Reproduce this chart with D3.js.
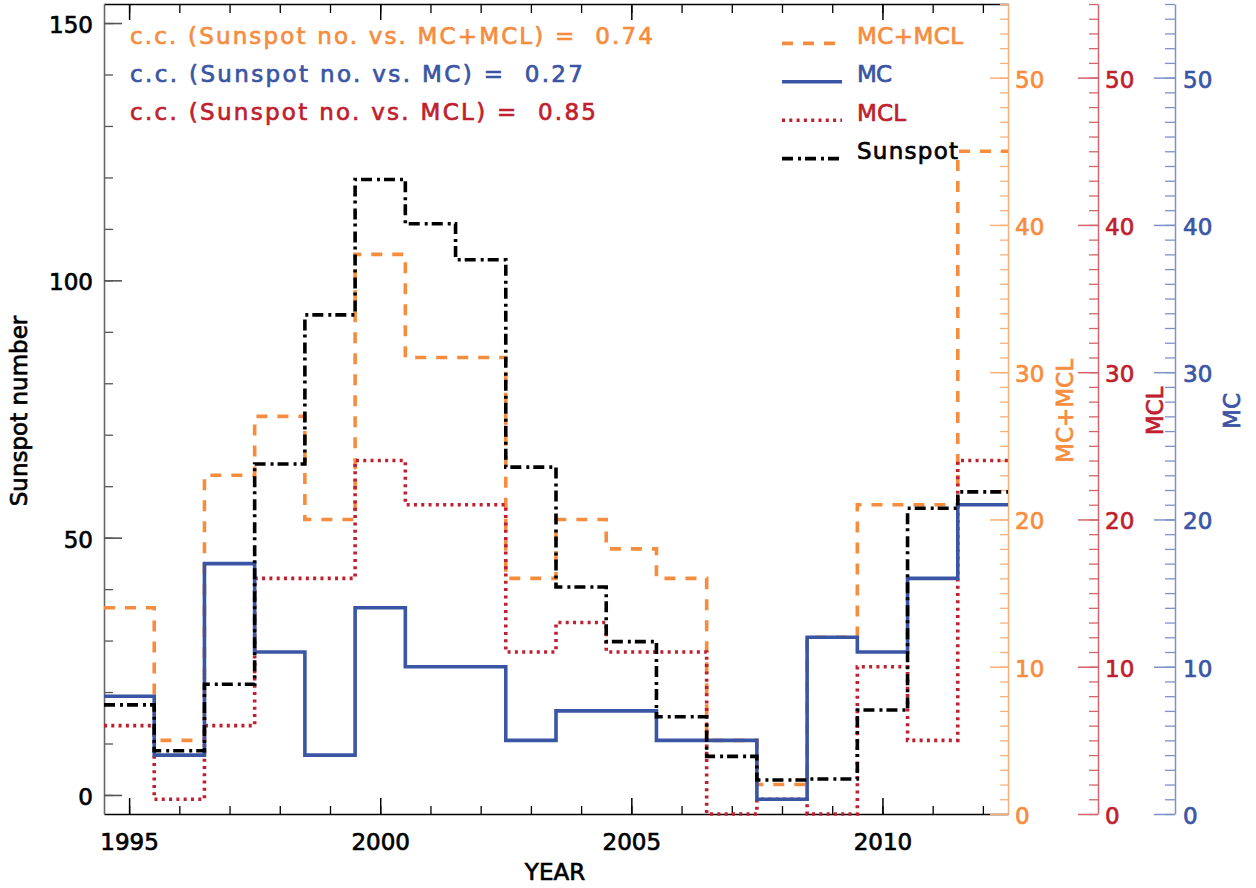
<!DOCTYPE html>
<html>
<head>
<meta charset="utf-8">
<script src="https://cdn.jsdelivr.net/npm/d3@7"></script>
<style>
  body { margin: 0; background: #fff; }
  svg text { font-family: "DejaVu Sans", sans-serif; font-size: 23px; white-space: pre;
             stroke: currentColor; stroke-width: 0.7px; }
</style>
</head>
<body>
<div id="chart"></div>
<script>
// yearly bins (each bin is centred on the year)
var years     = [1995, 1996, 1997, 1998, 1999, 2000, 2001, 2002, 2003, 2004, 2005, 2006, 2007, 2008, 2009, 2010, 2011, 2012];
var sunspot   = [17.5, 8.6, 21.5, 64.3, 93.3, 119.6, 111.0, 104.0, 63.7, 40.4, 29.8, 15.2, 7.5, 2.9, 3.1, 16.5, 55.7, 58.9];
var mcPlusMcl = [14, 5, 23, 27, 20, 38, 31, 31, 16, 20, 18, 16, 5, 2, 12, 21, 21, 45];
var mc        = [8, 4, 17, 11, 4, 14, 10, 10, 5, 7, 7, 5, 5, 1, 12, 11, 16, 21];
var mcl       = [6, 1, 6, 16, 16, 24, 21, 21, 11, 13, 11, 11, 0, 1, 0, 10, 5, 24];

// correlation coefficients printed top left
var ccNames  = ["MC+MCL", "MC", "MCL"];
var ccValues = ["0.74", "0.27", "0.85"];

// tick labels
var yearTicks    = [1995, 2000, 2005, 2010];
var sunspotTicks = [0, 50, 100, 150];
var countTicks   = [0, 10, 20, 30, 40, 50];

var ORANGE = "#f68d3e", BLUE = "#3b55a5", RED = "#bf1f2e";

var W = 1256, H = 888;
var plot = { left: 104, right: 1008, top: 4, bottom: 814 };

var svg = d3.select("#chart").append("svg")
  .attr("width", W)
  .attr("height", H)
  .style("color", "#000");

// SCALES
var x = d3.scaleLinear()
  .domain([d3.min(years) - 0.5, d3.max(years) + 0.5])
  .range([plot.left, plot.right]);
var ySun = d3.scaleLinear().domain([-3.7, 153.7]).range([plot.bottom, plot.top]);
var yCount = d3.scaleLinear().domain([0, 55]).range([plot.bottom, plot.top]);

// AXES
var drawAxis = function(axis, tx, ty, color, width) {
  var g = svg.append("g")
    .attr("transform", "translate(" + tx + "," + ty + ")")
    .call(axis);
  g.selectAll("path, line").attr("stroke", color).attr("stroke-width", width);
  g.selectAll("text").attr("fill", "#000").attr("font-size", null).attr("font-family", null);
  return g;
};
var minorAxis = function(axis, tx, ty, color, width) {
  var g = drawAxis(axis.tickFormat(""), tx, ty, color, width);
  g.select(".domain").remove();
};

// x: bottom + top
minorAxis(d3.axisBottom(x).tickValues(d3.range(1995, 2013)).tickSize(-8), 0, plot.bottom, "#000", 1.3);
minorAxis(d3.axisTop(x).tickValues(d3.range(1995, 2013)).tickSize(-9), 0, plot.top, "#000", 1.3);
drawAxis(d3.axisTop(x).tickValues(yearTicks).tickSize(-16).tickSizeOuter(0).tickFormat(""), 0, plot.top, "#000", 1.5);
var xg = drawAxis(d3.axisBottom(x).tickValues(yearTicks).tickSize(-16).tickSizeOuter(0).tickPadding(20).tickFormat(d3.format("d")),
  0, plot.bottom, "#000", 1.5);
xg.selectAll("text").style("color", "#000");

// left: sunspot number
minorAxis(d3.axisLeft(ySun).tickValues(d3.range(0, 151, 10)).tickSize(-9), plot.left, 0, "#555", 1.3);
var yl = drawAxis(d3.axisLeft(ySun).tickValues(sunspotTicks).tickSize(-18).tickSizeOuter(0).tickPadding(11),
  plot.left, 0, "#555", 1.6);
yl.select(".domain").attr("stroke", "#666");
yl.selectAll("text").attr("dy", "0.41em").style("color", "#000");

// right: three count axes
var rightAxes = [
  { x: plot.right, color: ORANGE, line: "#f9b17a", major: 18, minor: 8, pad: 7 },
  { x: 1098, color: RED, line: "#d3646e", major: 20, minor: 9, pad: 7 },
  { x: 1175, color: BLUE, line: "#7f91cb", major: 21, minor: 10, pad: 8 }
];
rightAxes.forEach(function(a) {
  minorAxis(d3.axisRight(yCount).tickValues(d3.range(0, 56, 1)).tickSize(-a.minor), a.x, 0, a.line, 1.3);
  var g = drawAxis(d3.axisRight(yCount).tickValues(countTicks).tickSize(-a.major).tickSizeOuter(0).tickPadding(a.pad),
    a.x, 0, a.line, 1.5);
  g.selectAll("text").attr("fill", a.color).style("color", a.color).attr("dy", "0.41em");
});

// axis titles
svg.append("text")
  .attr("transform", "translate(27,411) rotate(-90)")
  .attr("text-anchor", "middle")
  .text("Sunspot number");
svg.append("text")
  .attr("x", 555).attr("y", 880)
  .attr("text-anchor", "middle")
  .text("YEAR");
[["MC+MCL", ORANGE, 1073], ["MCL", RED, 1163], ["MC", BLUE, 1240]].forEach(function(t) {
  svg.append("text")
    .attr("transform", "translate(" + t[2] + ",411) rotate(-90)")
    .attr("text-anchor", "middle")
    .attr("fill", t[1])
    .style("color", t[1])
    .text(t[0]);
});

// HISTOGRAM LINES
var series = [
  { name: "MC+MCL",  values: mcPlusMcl, y: yCount, color: ORANGE, dash: "11,10" },
  { name: "MCL",     values: mcl,       y: yCount, color: RED,    dash: "3,4.3" },
  { name: "MC",      values: mc,        y: yCount, color: BLUE,   dash: null },
  { name: "Sunspot", values: sunspot,   y: ySun,   color: "#000", dash: "11,5,3,4" }
];

var stepPoints = function(values) {
  var pts = years.map(function(yr, i) { return { x: yr - 0.5, v: values[i] }; });
  pts.push({ x: years[years.length - 1] + 0.5, v: values[values.length - 1] });
  return pts;
};

series.forEach(function(s) {
  var line = d3.line()
    .x(function(d) { return x(d.x); })
    .y(function(d) { return s.y(d.v); })
    .curve(d3.curveStepAfter);
  svg.append("path")
    .datum(stepPoints(s.values))
    .attr("d", line)
    .attr("fill", "none")
    .attr("stroke", s.color)
    .attr("stroke-width", 3.6)
    .attr("stroke-dasharray", s.dash);
});

// c.c. annotations
var ccColors = [ORANGE, BLUE, RED];
var ccWidths = [523, 453, 466];
ccNames.forEach(function(n, i) {
  svg.append("text")
    .attr("x", 130)
    .attr("y", 44 + i * 37.8)
    .attr("fill", ccColors[i])
    .style("color", ccColors[i])
    .attr("textLength", ccWidths[i])
    .attr("lengthAdjust", "spacing")
    .text("c.c. (Sunspot no. vs. " + n + ") =  " + ccValues[i]);
});

// LEGEND
var legendOrder = ["MC+MCL", "MC", "MCL", "Sunspot"];
var legendWidths = [106, 35, 49, 101];
legendOrder.forEach(function(name, i) {
  var s = series.filter(function(d) { return d.name === name; })[0];
  var yy = 43.4 + i * 38.4;
  svg.append("line")
    .attr("x1", 782).attr("x2", 842)
    .attr("y1", yy).attr("y2", yy)
    .attr("stroke", s.color)
    .attr("stroke-width", 3.6)
    .attr("stroke-dasharray", s.dash);
  svg.append("text")
    .attr("x", 857)
    .attr("y", yy + 0.6)
    .attr("fill", s.color)
    .style("color", s.color)
    .attr("textLength", legendWidths[i])
    .attr("lengthAdjust", "spacing")
    .text(name);
});
</script>
</body>
</html>
